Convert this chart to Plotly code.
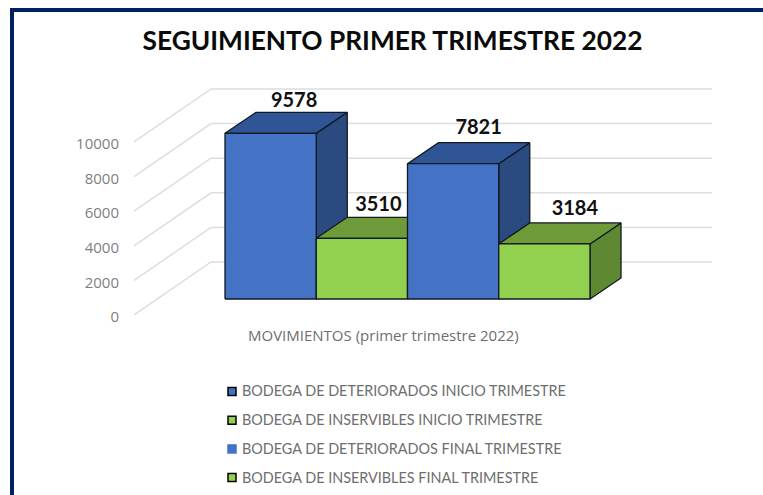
import plotly.graph_objects as go

# ---- data ----
categories = ["BODEGA DE DETERIORADOS INICIO TRIMESTRE", "BODEGA DE INSERVIBLES INICIO TRIMESTRE",
              "BODEGA DE DETERIORADOS FINAL TRIMESTRE", "BODEGA DE INSERVIBLES FINAL TRIMESTRE"]
values = [9578, 3510, 7821, 3184]
y_ticks = [0, 2000, 4000, 6000, 8000, 10000]
title_text = "SEGUIMIENTO PRIMER TRIMESTRE 2022"
x_title = "MOVIMIENTOS (primer trimestre 2022)"

# ---- style ----
front = ["#4472C4", "#92D050", "#4472C4", "#92D050"]
top = ["#2F5597", "#6F9A3A", "#2F5597", "#6F9A3A"]
side = ["#2A4A80", "#5F8832", "#2A4A80", "#5F8832"]
legend_line = ["#000000", "#000000", "#4472C4", "#000000"]
label_shift_px = [8, 1, 10, 15]
label_rise_px = [0, 1, 4, 3]
EDGE = "#101820"
NAVY = "#002060"
GRID = "#DDDDDD"

# ---- geometry (pixels of the window) ----
W, H = 763, 495
L, R, T, B = 134, 712, 80, 315      # plot area
PX_PER_UNIT = 0.0173
BAR_PX = 91.25
X0_PX = 225
base = 16 / PX_PER_UNIT             # bar floor above the axis zero
dx = 31 / BAR_PX                    # depth of the bars, x units
dy = 21 / PX_PER_UNIT               # depth of the bars, y units
wall_dx = 77 / BAR_PX               # depth of the floor, x units
wall_dy = 53 / PX_PER_UNIT
x_left = (L - X0_PX) / BAR_PX
x_right = (R - X0_PX) / BAR_PX
px = lambda x: (x - L) / (R - L)
py = lambda y: (B - y) / (B - T)

fig = go.Figure()

# gridlines: side-wall diagonal then back wall
for t in y_ticks:
    fig.add_trace(go.Scatter(
        x=[x_left, x_left + wall_dx, x_right], y=[t, t + wall_dy, t + wall_dy],
        mode="lines", line=dict(color=GRID, width=1.5), showlegend=False, hoverinfo="skip", cliponaxis=False))

def poly(xs, ys, color):
    fig.add_trace(go.Scatter(
        x=xs + xs[:1], y=ys + ys[:1], mode="lines", fill="toself", fillcolor=color,
        line=dict(color=EDGE, width=1.3), showlegend=False, hoverinfo="skip", cliponaxis=False))

# drawn left to right: each bar sits in front of the one before it
for i, v in enumerate(values):
    x0, x1 = i, i + 1
    y0, y1 = base, base + v
    poly([x1, x1 + dx, x1 + dx, x1], [y0, y0 + dy, y1 + dy, y1], side[i])
    poly([x0, x0 + dx, x1 + dx, x1], [y1, y1 + dy, y1 + dy, y1], top[i])
    poly([x0, x1, x1, x0], [y0, y0, y1, y1], front[i])

# data labels
fig.add_trace(go.Scatter(
    x=[i + 0.5 + dx / 2 + s / BAR_PX for i, s in enumerate(label_shift_px)],
    y=[base + v + dy + r / PX_PER_UNIT for v, r in zip(values, label_rise_px)],
    text=[str(v) for v in values], mode="text", textposition="top center",
    textfont=dict(family="Lato", size=20, color="#111111", weight="bold"),
    showlegend=False, hoverinfo="skip", cliponaxis=False))

# legend entries (the visible swatches are placed by shapes, nearer the text than plotly's slot allows)
for k, name in enumerate(categories):
    fig.add_trace(go.Scatter(
        x=[None], y=[None], mode="markers", name=name, legendgroup=str(k),
        marker=dict(symbol="square", size=9, color="rgba(0,0,0,0)", line=dict(width=0))))

swatches = []
for k, (f, l) in enumerate(zip(front, legend_line)):
    yc = 391.5 + k * 28.7
    swatches.append(dict(type="rect", xref="paper", yref="paper", x0=px(228), x1=px(236), y0=py(yc - 4), y1=py(yc + 4),
                         fillcolor=f, line=dict(color=l, width=1.5), layer="above"))

fig.update_layout(
    width=W, height=H, autosize=False,
    margin=dict(l=L, r=W - R, t=T, b=H - B, autoexpand=False),
    paper_bgcolor="white", plot_bgcolor="rgba(0,0,0,0)",
    title=dict(text="<b>" + title_text + "</b>", x=392.5 / W, xanchor="center", y=1 - 41 / H, yanchor="middle",
               font=dict(family="Lato", size=26.3, color="#0A0A0A")),
    xaxis=dict(range=[x_left, x_right], visible=False),
    yaxis=dict(range=[0, (B - T) / PX_PER_UNIT], tickvals=y_ticks, tickformat="d", showgrid=False,
               zeroline=False, showline=False, ticks="", ticklabelstandoff=14, ticklabelshift=2,
               tickfont=dict(family="Open Sans", size=15, color="#7F7F7F")),
    legend=dict(x=202 / W, xref="container", y=1 - 375 / H, yref="container", xanchor="left", yanchor="top",
                font=dict(family="Lato", size=14.4, color="#6E6E6E"), tracegroupgap=7,
                bgcolor="rgba(0,0,0,0)"),
    annotations=[dict(text=x_title, xref="paper", yref="paper", x=px(383.5), y=py(335),
                      xanchor="center", yanchor="middle", showarrow=False,
                      font=dict(family="Open Sans", size=15, color="#6E6E6E"))],
    shapes=[
        dict(type="path", xref="paper", yref="paper", layer="above",
             path=f"M {px(12)} {py(H + 5)} L {px(12)} {py(10)} L {px(W + 5)} {py(10)}",
             line=dict(color=NAVY, width=4), fillcolor="rgba(0,0,0,0)"),
    ] + swatches,
)
fig.write_html("out.html", config=dict(displayModeBar=False),
               post_script="document.body.style.margin='0';document.documentElement.style.overflow='hidden';")
